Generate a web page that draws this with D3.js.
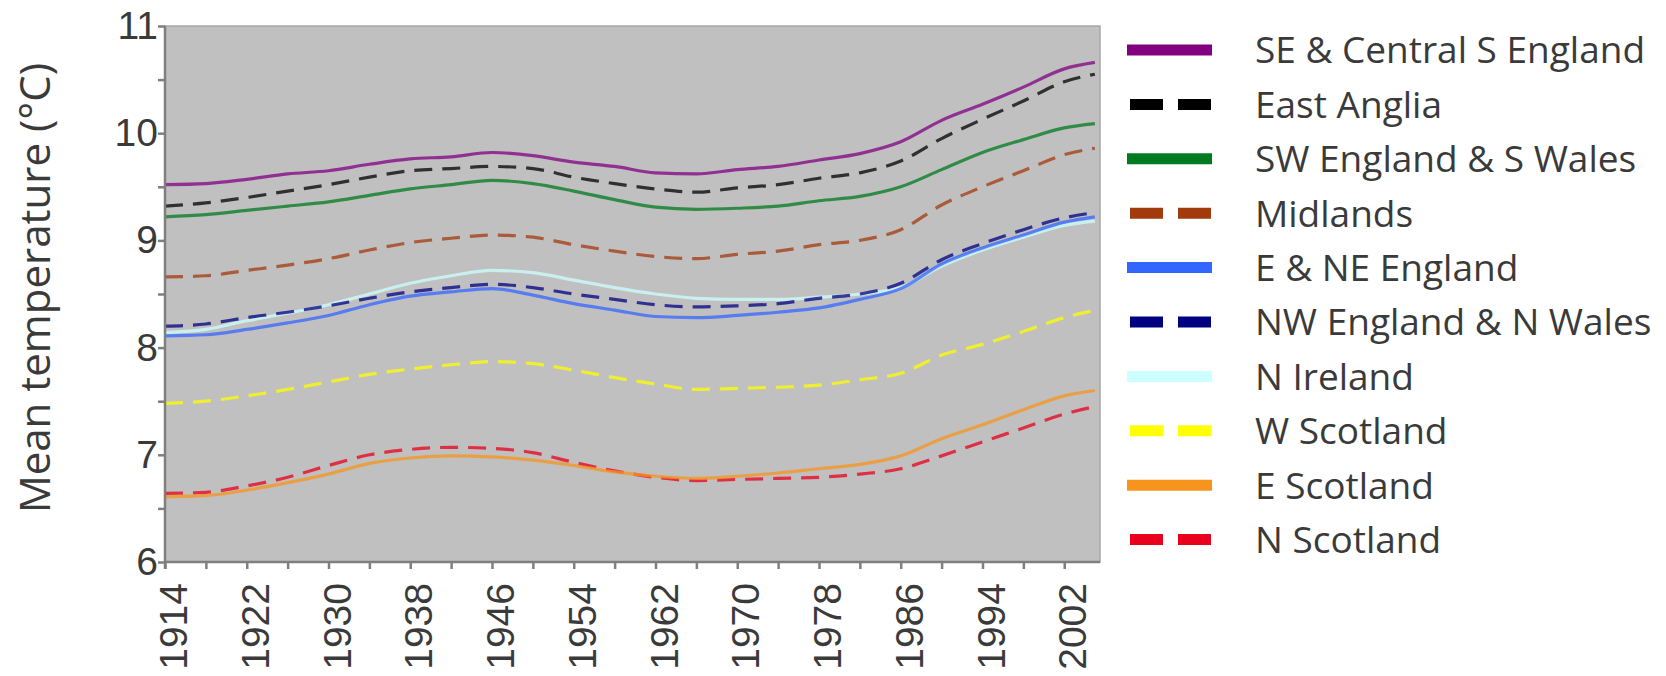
<!DOCTYPE html>
<html>
<head>
<meta charset="utf-8">
<script src="https://cdn.jsdelivr.net/npm/d3@7"></script>
<style>
    body { margin: 0; background: #fff; }
    svg { display: block; font-family: "Open Sans", sans-serif; }
</style>
</head>
<body>
<svg id="chart" width="1666" height="676"></svg>
<script>
var years = [1914, 1918, 1922, 1926, 1930, 1934, 1938, 1942, 1946, 1950, 1954, 1958,
             1962, 1966, 1970, 1974, 1978, 1982, 1986, 1990, 1994, 1998, 2002, 2005];

var seEngland  = [9.52, 9.53, 9.57, 9.62, 9.65, 9.71, 9.76, 9.78, 9.82, 9.79, 9.73, 9.69,
                  9.63, 9.62, 9.66, 9.69, 9.75, 9.81, 9.92, 10.12, 10.27, 10.43, 10.60, 10.66];
var eastAnglia = [9.32, 9.35, 9.40, 9.46, 9.52, 9.59, 9.65, 9.67, 9.69, 9.67, 9.59, 9.53,
                  9.48, 9.45, 9.49, 9.52, 9.58, 9.63, 9.74, 9.95, 10.13, 10.30, 10.48, 10.55];
var swEngland  = [9.22, 9.24, 9.28, 9.32, 9.36, 9.42, 9.48, 9.52, 9.56, 9.53, 9.46, 9.38,
                  9.31, 9.29, 9.30, 9.32, 9.37, 9.41, 9.50, 9.66, 9.82, 9.94, 10.05, 10.09];
var midlands   = [8.66, 8.67, 8.72, 8.77, 8.83, 8.91, 8.98, 9.02, 9.05, 9.03, 8.96, 8.90,
                  8.85, 8.83, 8.87, 8.90, 8.96, 9.00, 9.10, 9.33, 9.50, 9.65, 9.80, 9.86];
var neEngland  = [8.11, 8.12, 8.17, 8.23, 8.30, 8.40, 8.48, 8.52, 8.55, 8.49, 8.41, 8.35,
                  8.29, 8.28, 8.30, 8.33, 8.37, 8.45, 8.55, 8.78, 8.93, 9.05, 9.17, 9.22];
var nwEngland  = [8.20, 8.22, 8.28, 8.33, 8.39, 8.46, 8.52, 8.56, 8.59, 8.56, 8.50, 8.45,
                  8.40, 8.38, 8.39, 8.41, 8.46, 8.50, 8.60, 8.82, 8.97, 9.10, 9.21, 9.26];
var nIreland   = [8.14, 8.17, 8.25, 8.32, 8.40, 8.50, 8.60, 8.67, 8.72, 8.70, 8.63, 8.56,
                  8.50, 8.46, 8.45, 8.45, 8.47, 8.50, 8.56, 8.76, 8.91, 9.03, 9.14, 9.18];
var wScotland  = [7.48, 7.50, 7.55, 7.61, 7.68, 7.75, 7.80, 7.84, 7.87, 7.85, 7.79, 7.72,
                  7.66, 7.61, 7.62, 7.63, 7.65, 7.70, 7.76, 7.93, 8.03, 8.15, 8.28, 8.35];
var eScotland  = [6.61, 6.62, 6.67, 6.74, 6.82, 6.92, 6.97, 6.99, 6.98, 6.95, 6.90, 6.84,
                  6.80, 6.78, 6.80, 6.83, 6.87, 6.91, 6.99, 7.15, 7.28, 7.42, 7.55, 7.60];
var nScotland  = [6.64, 6.65, 6.71, 6.79, 6.90, 7.00, 7.05, 7.07, 7.06, 7.02, 6.93, 6.85,
                  6.79, 6.76, 6.77, 6.78, 6.79, 6.82, 6.87, 6.99, 7.12, 7.25, 7.38, 7.45];

var regionNames = ['SE & Central S England', 'East Anglia', 'SW England & S Wales', 'Midlands',
                   'E & NE England', 'NW England & N Wales', 'N Ireland', 'W Scotland',
                   'E Scotland', 'N Scotland'];
var regionValues = [seEngland, eastAnglia, swEngland, midlands, neEngland,
                    nwEngland, nIreland, wScotland, eScotland, nScotland];
var regionColors = ['#800080', '#000000', '#007a1e', '#a33a0e', '#3366ff',
                    '#000080', '#ccffff', '#ffff00', '#f7941d', '#e8001c'];
var regionDashed = [false, true, false, true, false, true, false, true, false, true];

var yTicks = [6, 7, 8, 9, 10, 11];
var xTickYears = [1914, 1922, 1930, 1938, 1946, 1954, 1962, 1970, 1978, 1986, 1994, 2002];


var svg = d3.select('#chart'),
    plot = { left: 165, right: 1100, top: 26, bottom: 562 },
    axisColor = '#7f7f7f',
    textColor = '#3a3a3a';

var x = d3.scaleLinear()
    .domain([1914, 2005.5])
    .range([plot.left, plot.right]);

var y = d3.scaleLinear()
    .domain([6, 11])
    .range([plot.bottom, plot.top]);


// plot area
svg.append('rect')
    .attr('x', plot.left)
    .attr('y', plot.top)
    .attr('width', plot.right - plot.left)
    .attr('height', plot.bottom - plot.top)
    .attr('fill', '#c0c0c0')
    .attr('stroke', '#a8a8a8')
    .attr('stroke-width', 1.5);


// series
var line = d3.line()
    .x(function(d) { return x(d[0]); })
    .y(function(d) { return y(d[1]); })
    .curve(d3.curveMonotoneX);

var series = regionValues.map(function(vals, i) {
    return {
        name: regionNames[i],
        color: regionColors[i],
        dashed: regionDashed[i],
        points: years.map(function(yr, j) { return [yr, vals[j]]; })
    };
});

// draw bottom-up so the first regions sit on top
svg.append('g')
    .attr('class', 'series')
    .selectAll('path')
    .data(series.slice().reverse())
    .enter()
    .append('path')
    .attr('d', function(d) { return line(d.points); })
    .attr('fill', 'none')
    .attr('stroke', function(d) { return d.color; })
    .attr('stroke-opacity', 0.75)
    .attr('stroke-width', 3.2)
    .attr('stroke-dasharray', function(d) { return d.dashed ? '18,10' : null; });


// y axis
var yAxis = d3.axisLeft(y)
    .tickValues(d3.range(6, 11.01, 0.5))
    .tickSize(7)
    .tickPadding(0)
    .tickFormat(function(d) { return yTicks.indexOf(d) >= 0 ? d : ''; });

var gy = svg.append('g')
    .attr('transform', 'translate(' + plot.left + ',0)')
    .call(yAxis);

gy.select('.domain')
    .attr('d', 'M0,' + plot.top + 'V' + (plot.bottom + 7));

gy.selectAll('line, path')
    .attr('stroke', axisColor)
    .attr('stroke-width', 2.5);

gy.selectAll('text')
    .attr('fill', textColor)
    .style('font-size', '39px');


// x axis
var xAxis = d3.axisBottom(x)
    .tickValues(d3.range(1914, 2003, 4))
    .tickSize(7)
    .tickFormat(function(d) { return xTickYears.indexOf(d) >= 0 ? d : ''; });

var gx = svg.append('g')
    .attr('transform', 'translate(0,' + plot.bottom + ')')
    .call(xAxis);

gx.select('.domain')
    .attr('d', 'M' + plot.left + ',0H' + plot.right);

gx.selectAll('line, path')
    .attr('stroke', axisColor)
    .attr('stroke-width', 2.5);

gx.selectAll('text')
    .attr('fill', textColor)
    .style('font-size', '39px')
    .attr('text-anchor', 'end')
    .attr('transform', 'translate(8,21) rotate(-90)')
    .attr('x', 0)
    .attr('y', 0)
    .attr('dy', '0.35em');


// y title
svg.append('text')
    .attr('transform', 'translate(35,' + ((plot.top + plot.bottom) / 2 - 6) + ') rotate(-90)')
    .attr('text-anchor', 'middle')
    .attr('dy', '0.35em')
    .attr('fill', textColor)
    .style('font-size', '42px')
    .text('Mean temperature (°C)');


// legend
var legend = svg.append('g')
    .attr('class', 'legend')
    .selectAll('g')
    .data(series)
    .enter()
    .append('g')
    .attr('transform', function(d, i) { return 'translate(0,' + (50 + i * 54.4) + ')'; });

legend.append('line')
    .attr('x1', function(d) { return d.dashed ? 1130 : 1127; })
    .attr('x2', 1212)
    .attr('stroke', function(d) { return d.color; })
    .attr('stroke-width', 11)
    .attr('stroke-dasharray', function(d) { return d.dashed ? '33,15' : null; });

legend.append('text')
    .attr('x', 1255)
    .attr('dy', '0.36em')
    .attr('fill', textColor)
    .style('font-size', '37px')
    .text(function(d) { return d.name; });
</script>
</body>
</html>
